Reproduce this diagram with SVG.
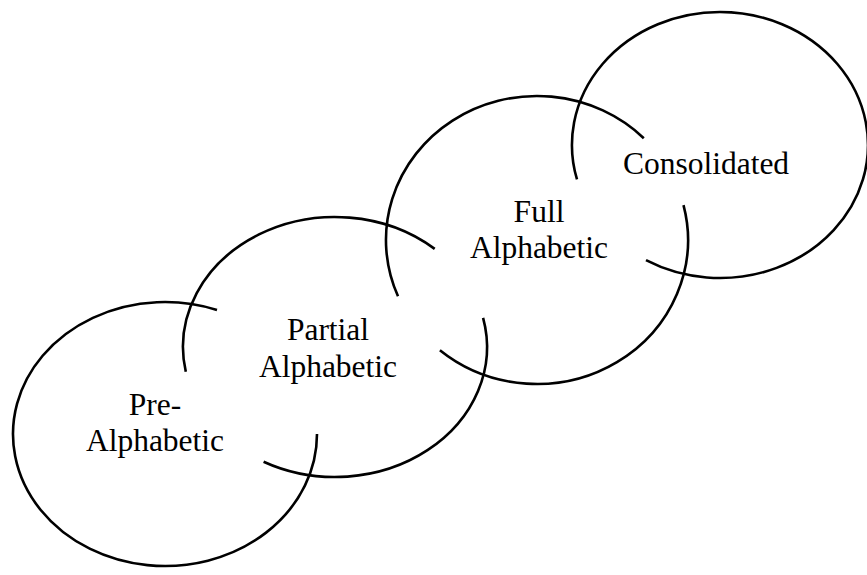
<svg xmlns="http://www.w3.org/2000/svg" width="867" height="575" viewBox="0 0 867 575">
  <style>
    .ring { fill: none; stroke: #000; stroke-width: 2.6; stroke-linecap: butt; }
    .lbl { font-family: "Liberation Serif", "Times New Roman", serif; font-size: 31.5px; fill: #000; text-anchor: middle; }
  </style>
  <rect width="867" height="575" fill="#fff"/>
  <g id="pre-alphabetic">
    <path class="ring" d="M317,434 A152,132 0 1 1 217,310"/>
    <text class="lbl" x="155" y="415">Pre-</text>
    <text class="lbl" x="155" y="451">Alphabetic</text>
  </g>
  <g id="partial-alphabetic">
    <path class="ring" d="M185.8,371.8 A152,130 0 0 1 434.7,248.9"/>
    <path class="ring" d="M483.1,317.8 A152,130 0 0 1 263.6,461.8"/>
    <text class="lbl" x="328" y="340">Partial</text>
    <text class="lbl" x="328" y="377">Alphabetic</text>
  </g>
  <g id="full-alphabetic">
    <path class="ring" d="M398,296.3 A151,144 0 0 1 643.8,138.2"/>
    <path class="ring" d="M683.5,205.2 A151,144 0 0 1 439.9,350.3"/>
    <text class="lbl" x="539" y="222">Full</text>
    <text class="lbl" x="539" y="258">Alphabetic</text>
  </g>
  <g id="consolidated">
    <path class="ring" d="M577,179.4 A148,133 0 1 1 646,260.2"/>
    <text class="lbl" x="706" y="174">Consolidated</text>
  </g>
</svg>
